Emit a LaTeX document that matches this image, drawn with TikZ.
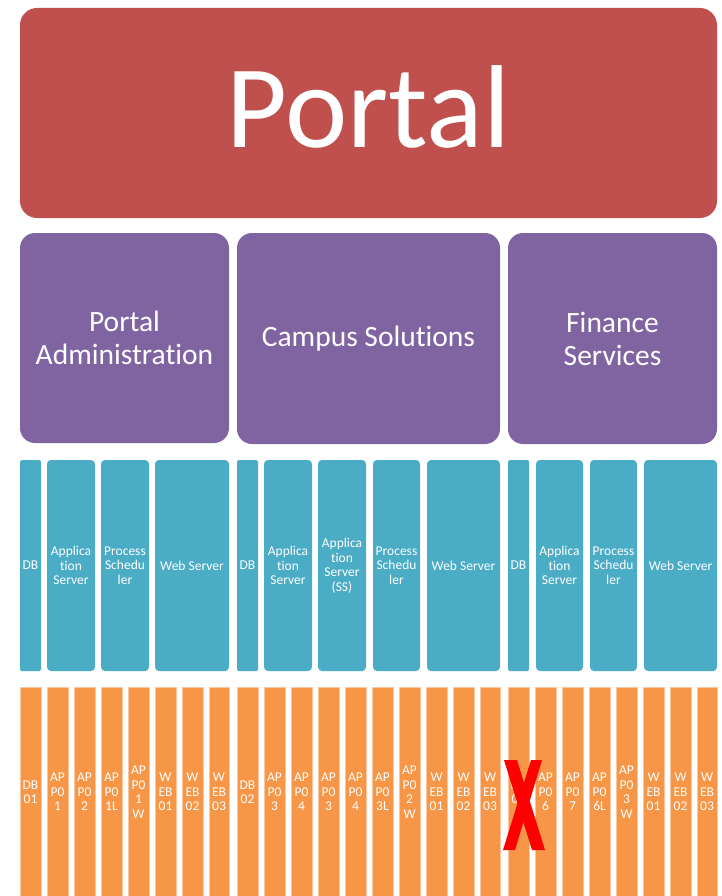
\documentclass[tikz,border=0pt]{standalone}
\usepackage{fontspec}
\setmainfont{Carlito}[Ligatures=NoCommon]
\definecolor{portalred}{HTML}{C0504D}
\definecolor{apppurple}{HTML}{8064A2}
\definecolor{tierteal}{HTML}{4BACC6}
\definecolor{hostorange}{HTML}{F79646}
\definecolor{hostedge}{HTML}{FAC7A0}
\definecolor{crossred}{HTML}{FF0000}
\newcommand{\mkbox}[7]{%
  \pgfmathsetmacro\mkcx{(#3+#5)/2}%
  \pgfmathsetmacro\mkcy{(#4+#6)/2}%
  \pgfmathsetmacro\mkw{#5-#3}%
  \pgfmathsetmacro\mkh{#6-#4}%
  \node[#2, minimum width=\mkw pt, minimum height=\mkh pt] (#1) at (\mkcx,\mkcy) {#7};}
\tikzset{
  basebox/.style={rectangle, inner sep=0pt, outer sep=0pt, text=white, align=center},
  portalbox/.style={basebox, fill=portalred, rounded corners=17pt},
  portaltext/.style={inner sep=0pt, text=white, font=\fontsize{118}{124}\selectfont},
  appbox/.style={basebox, fill=apppurple, rounded corners=15pt, font=\fontsize{29.5}{33}\selectfont},
  tierbox/.style={basebox, fill=tierteal, rounded corners=4pt, font=\fontsize{13.5}{14.5}\selectfont},
  dbbox/.style={tierbox, rounded corners=1.5pt},
  hostbox/.style={basebox, fill=hostorange, draw=hostedge, line width=0.7pt, font=\fontsize{13.5}{14.5}\selectfont},
}
\begin{document}
\begin{tikzpicture}[x=1pt,y=-1pt]
\useasboundingbox (0,0) rectangle (721,896);
% top
\mkbox{portal}{portalbox}{20}{8}{717}{218}{}
\node[portaltext, anchor=base] (portaltxt) at (368.5,148) {Portal};
% applications
\mkbox{padmin}{appbox}{20}{233}{229}{443}{Portal\\Administration}
\mkbox{campus}{appbox}{237}{233}{500}{444}{Campus Solutions}
\mkbox{finance}{appbox}{508}{233}{717}{444}{Finance\\Services}
% tiers
\mkbox{t1}{dbbox}{20}{460}{41}{671}{DB}
\mkbox{t2}{tierbox}{47}{460}{95}{671}{Applica\\tion\\Server}
\mkbox{t3}{tierbox}{101}{460}{149}{671}{Process\\Schedu\\ler}
\mkbox{t4}{tierbox}{155}{460}{229}{671}{Web Server}
\mkbox{t5}{dbbox}{237}{460}{258}{671}{DB}
\mkbox{t6}{tierbox}{264}{460}{312}{671}{Applica\\tion\\Server}
\mkbox{t7}{tierbox}{318}{460}{366}{671}{Applica\\tion\\Server\\(SS)}
\mkbox{t8}{tierbox}{373}{460}{420}{671}{Process\\Schedu\\ler}
\mkbox{t9}{tierbox}{427}{460}{500}{671}{Web Server}
\mkbox{t10}{dbbox}{508}{460}{529}{671}{DB}
\mkbox{t11}{tierbox}{536}{460}{583}{671}{Applica\\tion\\Server}
\mkbox{t12}{tierbox}{590}{460}{637}{671}{Process\\Schedu\\ler}
\mkbox{t13}{tierbox}{644}{460}{717}{671}{Web Server}
% hosts
\mkbox{h1}{hostbox}{20}{687}{41}{897}{DB\\01}
\mkbox{h2}{hostbox}{47}{687}{68}{897}{AP\\P0\\1}
\mkbox{h3}{hostbox}{74}{687}{95}{897}{AP\\P0\\2}
\mkbox{h4}{hostbox}{101}{687}{122}{897}{AP\\P0\\1L}
\mkbox{h5}{hostbox}{128}{687}{149}{897}{AP\\P0\\1\\W}
\mkbox{h6}{hostbox}{155}{687}{176}{897}{W\\EB\\01}
\mkbox{h7}{hostbox}{182}{687}{203}{897}{W\\EB\\02}
\mkbox{h8}{hostbox}{209}{687}{229}{897}{W\\EB\\03}
\mkbox{h9}{hostbox}{237}{687}{258}{897}{DB\\02}
\mkbox{h10}{hostbox}{264}{687}{285}{897}{AP\\P0\\3}
\mkbox{h11}{hostbox}{291}{687}{312}{897}{AP\\P0\\4}
\mkbox{h12}{hostbox}{318}{687}{339}{897}{AP\\P0\\3}
\mkbox{h13}{hostbox}{345}{687}{366}{897}{AP\\P0\\4}
\mkbox{h14}{hostbox}{372}{687}{393}{897}{AP\\P0\\3L}
\mkbox{h15}{hostbox}{399}{687}{420}{897}{AP\\P0\\2\\W}
\mkbox{h16}{hostbox}{426}{687}{447}{897}{W\\EB\\01}
\mkbox{h17}{hostbox}{453}{687}{474}{897}{W\\EB\\02}
\mkbox{h18}{hostbox}{480}{687}{500}{897}{W\\EB\\03}
\mkbox{h19}{hostbox}{508}{687}{529}{897}{DB\\03}
\mkbox{h20}{hostbox}{535}{687}{556}{897}{AP\\P0\\6}
\mkbox{h21}{hostbox}{562}{687}{583}{897}{AP\\P0\\7}
\mkbox{h22}{hostbox}{589}{687}{610}{897}{AP\\P0\\6L}
\mkbox{h23}{hostbox}{616}{687}{637}{897}{AP\\P0\\3\\W}
\mkbox{h24}{hostbox}{643}{687}{664}{897}{W\\EB\\01}
\mkbox{h25}{hostbox}{670}{687}{691}{897}{W\\EB\\02}
\mkbox{h26}{hostbox}{697}{687}{717}{897}{W\\EB\\03}
% red cross over DB03
\fill[crossred] (504,760) -- (517,760) -- (545,850) -- (532,850) -- cycle;
\fill[crossred] (531,760) -- (542,760) -- (515,850) -- (503,850) -- cycle;
\end{tikzpicture}
\end{document}
